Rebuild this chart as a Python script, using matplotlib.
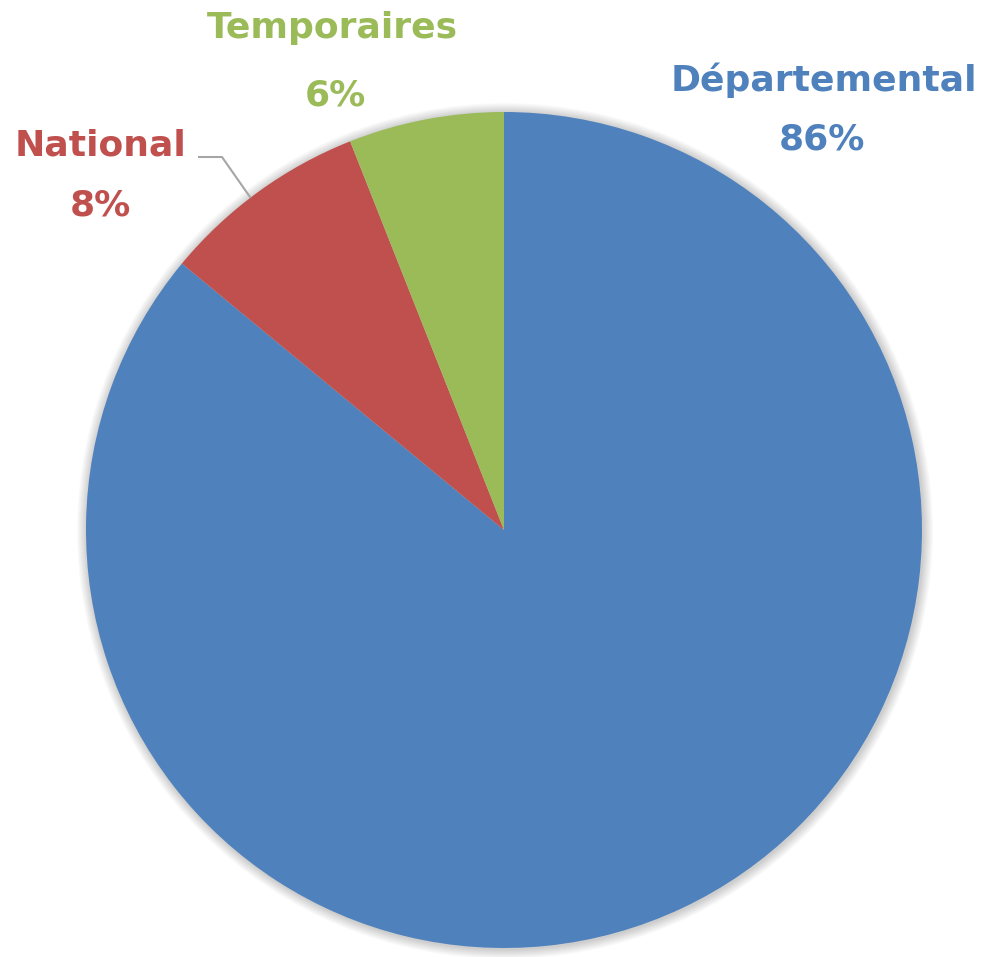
import numpy as np
import matplotlib.pyplot as plt
from matplotlib.patches import Circle

# data
labels = ['Départemental', 'National', 'Temporaires']
shares = [86, 8, 6]
colors = ['#4F81BD', '#C0504D', '#9BBB59']

W, H = 986, 957
fig = plt.figure(figsize=(W / 100, H / 100), dpi=100)
ax = fig.add_axes([0, 0, 1, 1])

cx, cy, r = 504, H - 530, 418

# soft shadow around the pie
for k in range(10, 0, -1):
    ax.add_patch(Circle((cx + 1, cy - 1), r + k, color='black', alpha=0.018, lw=0, zorder=0))

ax.pie(shares, colors=colors, startangle=90, counterclock=False,
       center=(cx, cy), radius=r, frame=True,
       wedgeprops=dict(linewidth=0))
ax.set_xlim(0, W)
ax.set_ylim(0, H)
ax.set_aspect('equal')
ax.axis('off')

font = dict(family=['DejaVu Sans'], fontweight='bold', fontsize=26)
label_pos = [(824, 80, 822, 140), (101, 145, 100, 205), (332, 28, 335, 95)]
for name, val, col, (x1, y1, x2, y2) in zip(labels, shares, colors, label_pos):
    ax.text(x1, H - y1, name, color=col, ha='center', va='center', **font)
    ax.text(x2, H - y2, f'{val}%', color=col, ha='center', va='center', **font)

# leader line for National
ax.plot([199, 222, 250], [H - 157, H - 157, H - 197], color='#A6A6A6', lw=1.5)

fig.savefig('out.png', dpi=100)
